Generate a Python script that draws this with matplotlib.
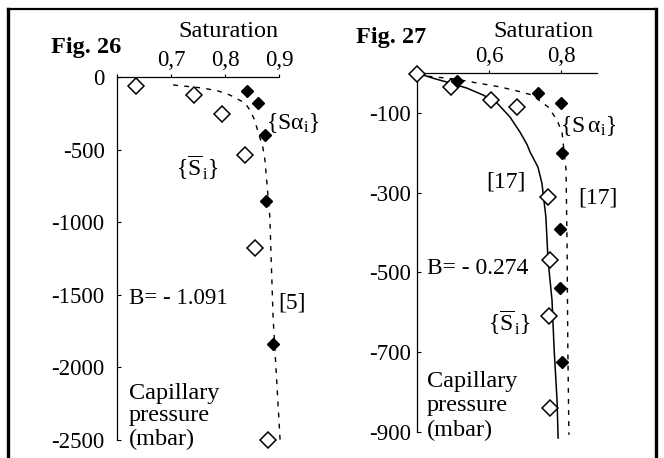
import matplotlib
matplotlib.use('Agg')
import matplotlib.pyplot as plt
from matplotlib.lines import Line2D

plt.rcParams['font.family'] = ['Liberation Serif', 'DejaVu Serif']
plt.rcParams['mathtext.fontset'] = 'custom'
plt.rcParams['mathtext.rm'] = 'Liberation Serif'
plt.rcParams['mathtext.it'] = 'Liberation Serif'
plt.rcParams['mathtext.bf'] = 'Liberation Serif:bold'

# Fig. 26 : mean saturation and S-alpha points, fitted curve [5]
s26_mean = [0.635, 0.743, 0.794, 0.837, 0.856, 0.880]
p26_mean = [-62, -124, -255, -537, -1178, -2500]
s26_alpha = [0.841, 0.861, 0.874, 0.876, 0.889]
p26_alpha = [-96, -179, -400, -854, -1839]
s26_fit = [0.704, 0.759, 0.787, 0.809, 0.837, 0.846, 0.854, 0.870, 0.874,
           0.883, 0.889, 0.896, 0.902]
p26_fit = [-55, -76, -96, -124, -179, -227, -289, -482, -572,
           -964, -1653, -2107, -2500]

# Fig. 27 : same quantities, both curves from [17]
s27_mean = [0.400, 0.494, 0.605, 0.677, 0.764, 0.769, 0.767, 0.769]
p27_mean = [-3, -35, -68, -85, -311, -469, -609, -840]
s27_alpha = [0.511, 0.736, 0.800, 0.803, 0.797, 0.797, 0.803]
p27_alpha = [-20, -50, -75, -200, -391, -540, -725]
s27_fit_mean = [0.400, 0.444, 0.492, 0.539, 0.583, 0.622, 0.658, 0.686, 0.706,
                0.714, 0.736, 0.747, 0.758, 0.764, 0.775, 0.781, 0.789, 0.792]
p27_fit_mean = [0, -13, -25, -38, -55, -75, -110, -148, -180,
                -198, -236, -276, -361, -469, -569, -694, -820, -915]
s27_fit_alpha = [0.400, 0.428, 0.506, 0.567, 0.631, 0.678, 0.719, 0.764, 0.789,
                 0.803, 0.814, 0.817, 0.819, 0.822]
p27_fit_alpha = [0, -8, -15, -25, -35, -45, -55, -85, -118,
                 -150, -243, -444, -694, -907]

W, H = 664, 458
fig = plt.figure(figsize=(W / 100, H / 100), dpi=100)


def px(x, y):
    return x / W, 1 - y / H


def setup(ax, xlim, ylim, xticks, xlabels, yticks, ypad, xpad):
    ax.set_xlim(*xlim)
    ax.set_ylim(*ylim)
    ax.patch.set_alpha(0)
    for s in ['right', 'bottom']:
        ax.spines[s].set_visible(False)
    for s in ['left', 'top']:
        ax.spines[s].set_linewidth(0.9)
    ax.xaxis.tick_top()
    ax.set_xticks(xticks)
    ax.set_xticklabels(xlabels)
    ax.set_yticks(yticks)
    ax.set_yticklabels([str(v) for v in yticks])
    ax.tick_params(axis='x', direction='out', length=2, width=0.8,
                   labelsize=16.5, pad=xpad)
    ax.tick_params(axis='y', direction='in', length=3, width=0.8,
                   labelsize=16.5, pad=ypad)


diam_open = dict(linestyle='none', marker='D', ms=8, mfc='white',
                 mec='black', mew=1.1, clip_on=False, zorder=4)
diam_full = dict(linestyle='none', marker='D', ms=6.6, mfc='black',
                 mec='black', clip_on=False, zorder=4)

# ---- Fig. 26
ax1 = fig.add_axes([117 / W, (H - 440) / H, 162 / W, 363 / H])
setup(ax1, (0.6, 0.9), (-2500, 0), [0.6, 0.7, 0.8, 0.9],
      ['', '0,7', '0,8', '0,9'], [0, -500, -1000, -1500, -2000, -2500], 9, 2)
ax1.plot(s26_fit, p26_fit, color='black', lw=1, dashes=(3.5, 4.5), clip_on=False)
ax1.plot(s26_mean, p26_mean, **diam_open)
ax1.plot(s26_alpha, p26_alpha, **diam_full)

# ---- Fig. 27
ax2 = fig.add_axes([417 / W, (H - 432) / H, 180 / W, 359 / H])
setup(ax2, (0.4, 0.9), (-900, 0), [0.6, 0.8], ['0,6', '0,8'],
      [-100, -300, -500, -700, -900], 4.5, 2)
ax2.plot(s27_fit_mean, p27_fit_mean, color='black', lw=1.1, clip_on=False)
ax2.plot(s27_fit_alpha, p27_fit_alpha, color='black', lw=1, dashes=(3.5, 4.5),
         clip_on=False)
ax2.plot(s27_mean, p27_mean, **diam_open)
ax2.plot(s27_alpha, p27_alpha, **diam_full)

# ---- labels
fig.text(*px(51, 53), 'Fig. 26', fontsize=17.5, fontweight='bold', va='baseline')
fig.text(*px(356, 43), 'Fig. 27', fontsize=17.5, fontweight='bold', va='baseline')
fig.text(*px(228, 37), 'Saturation', fontsize=17.5, ha='center', va='baseline')
fig.text(*px(543, 37), 'Saturation', fontsize=17.5, ha='center', va='baseline')

fig.text(*px(266, 123), r'$\{\rm S\alpha_{i}\}$', fontsize=17, va='center')
fig.text(*px(176, 168), r'$\{\overline{\rm S}_{\,\rm i}\}$', fontsize=17,
         va='center')
fig.text(*px(129, 298), 'B= - 1.091', fontsize=16.5, va='center')
fig.text(*px(278, 303), '[5]', fontsize=17, va='center')
fig.text(*px(129, 393), 'Capillary', fontsize=17.5, va='center')
fig.text(*px(129, 416), 'pressure', fontsize=17.5, va='center')
fig.text(*px(129, 439), '(mbar)', fontsize=17.5, va='center')

fig.text(*px(560, 126), r'$\{\rm S\,\alpha_{i}\}$', fontsize=17, va='center')
fig.text(*px(486, 182), '[17]', fontsize=17, va='center')
fig.text(*px(578, 198), '[17]', fontsize=17, va='center')
fig.text(*px(427, 268), 'B= - 0.274', fontsize=17, va='center')
fig.text(*px(488, 323), r'$\{\overline{\rm S}_{\,\rm i}\}$', fontsize=17,
         va='center')
fig.text(*px(427, 382), 'Capillary', fontsize=17.5, va='center')
fig.text(*px(427, 406), 'pressure', fontsize=17.5, va='center')
fig.text(*px(427, 430), '(mbar)', fontsize=17.5, va='center')

# outer frame, open at the bottom
fx0, fx1, fy0 = 8, 656, 9
fig.add_artist(Line2D([fx0 / W, fx0 / W], [0, 1 - fy0 / H], color='black', lw=2.4))
fig.add_artist(Line2D([fx1 / W, fx1 / W], [0, 1 - fy0 / H], color='black', lw=2.4))
fig.add_artist(Line2D([fx0 / W, fx1 / W], [1 - fy0 / H, 1 - fy0 / H],
                      color='black', lw=1.6))

fig.savefig('out.png', dpi=100)
